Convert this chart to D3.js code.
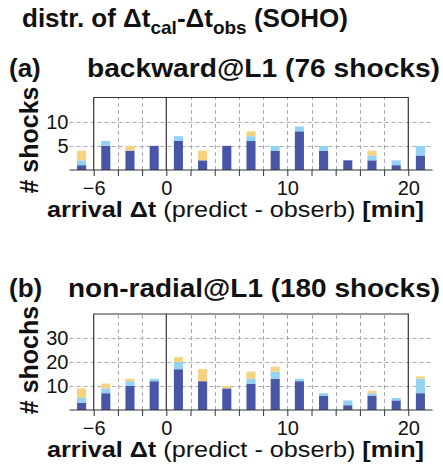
<!DOCTYPE html>
<html>
<head>
<meta charset="utf-8">
<script src="https://cdn.jsdelivr.net/npm/d3@7"></script>
<style>
  html, body { margin: 0; padding: 0; background: #fff; }
  svg { display: block; font-family: "Liberation Sans", Arial, Helvetica, sans-serif; }
</style>
</head>
<body>
<svg id="chart" width="443" height="468"></svg>
<script>
// bin centres (min), 2-min wide bins
const bins = [-7, -5, -3, -1, 1, 3, 5, 7, 9, 11, 13, 15, 17, 19, 21];

// (a) backward@L1
const aDark   = [1, 5, 4, 5, 6, 2, 5, 6, 4, 8, 4, 2, 2, 1, 3];
const aLight  = [1, 1, 0, 0, 1, 0, 0, 1, 1, 1, 1, 0, 1, 1, 2];
const aYellow = [2, 0, 1, 0, 0, 2, 0, 1, 0, 0, 0, 0, 1, 0, 0];

// (b) non-radial@L1
const bDark   = [3, 7, 10, 12, 17, 12, 9, 11, 13, 12, 6, 2, 6, 4, 7];
const bLight  = [2, 2, 2, 1, 3, 0, 0, 2, 3, 1, 1, 2, 1, 1, 6];
const bYellow = [4, 2, 1, 0, 2, 5, 1, 3, 2, 0, 0, 0, 1, 0, 1];

const xTicks = [-6, 0, 10, 20];
const aYTicks = [5, 10];
const bYTicks = [10, 20, 30];

const colors = { dark: '#4756a6', light: '#93d2f3', yellow: '#f4d27e' };

const svg = d3.select('#chart');

const x = d3.scaleLinear().domain([-8, 22]).range([69.5, 432.5]);
const frameL = -6, frameR = 20;

// title
const title = svg.append('text')
  .attr('x', 22).attr('y', 27)
  .attr('font-weight', 'bold').attr('font-size', 26).attr('fill', '#111');
title.append('tspan').text('distr. of Δt');
title.append('tspan').attr('font-size', 19).attr('dy', 7).text('cal');
title.append('tspan').attr('dy', -7).text('-Δt');
title.append('tspan').attr('font-size', 19).attr('dy', 7).text('obs');
title.append('tspan').attr('dy', -7).text(' (SOHO)');

function panel(opts) {
  const { tag, name, nameX, tagY, top, bottom, yMax, yTicks, ylabel, ylabelY, dark, light, yellow } = opts;
  const y = d3.scaleLinear().domain([0, yMax]).range([bottom, top]);
  const g = svg.append('g');

  // panel headers
  g.append('text').attr('x', 9).attr('y', tagY)
    .attr('font-weight', 'bold').attr('font-size', 26).attr('fill', '#111')
    .text(tag);
  g.append('text').attr('x', nameX).attr('y', tagY)
    .attr('font-weight', 'bold').attr('font-size', 26).attr('fill', '#111')
    .attr('textLength', 440 - nameX).attr('lengthAdjust', 'spacingAndGlyphs')
    .text(name);

  // dashed grid
  const grid = g.append('g').attr('stroke', '#aaa').attr('stroke-dasharray', '4,3').attr('stroke-width', 1);
  grid.selectAll('.hg').data(yTicks).join('line')
    .attr('x1', x(-8)).attr('x2', x(22))
    .attr('y1', d => Math.round(y(d)) + 0.5).attr('y2', d => Math.round(y(d)) + 0.5);
  const vg = d3.range(frameL + 2, frameR, 2).filter(d => d !== 0);
  grid.selectAll('.vg').data(vg).join('line')
    .attr('x1', d => Math.round(x(d)) + 0.5).attr('x2', d => Math.round(x(d)) + 0.5)
    .attr('y1', y(0)).attr('y2', y(yMax));

  // stacked bars
  const rows = bins.map((b, i) => ({ bin: b, dark: dark[i], light: light[i], yellow: yellow[i] }));
  const stack = d3.stack().keys(['dark', 'light', 'yellow'])(rows);
  const bw = x(0.75) - x(0);
  g.append('g').selectAll('g').data(stack).join('g')
    .attr('fill', d => colors[d.key])
    .selectAll('rect').data(d => d).join('rect')
    .attr('x', d => x(d.data.bin) - bw / 2)
    .attr('width', bw)
    .attr('y', d => y(d[1]))
    .attr('height', d => y(d[0]) - y(d[1]));

  // frame lines
  const fr = g.append('g').attr('stroke', '#333').attr('stroke-width', 1.2).attr('fill', 'none');
  fr.append('path').attr('d',
    `M${x(frameL)},${y(0)}V${y(yMax)}H${x(frameR)}V${y(0)}M${x(0)},${y(0)}V${y(yMax)}`);

  // x axis
  const xAxis = d3.axisBottom(x)
    .tickValues(d3.range(frameL, frameR + 1, 2))
    .tickSize(6).tickFormat(d => xTicks.includes(d) ? d3.format('')(d) : '');
  const xg = g.append('g').attr('transform', `translate(0,${y(0)})`).call(xAxis);
  xg.select('.domain').attr('d', `M${x(-8)},0H${x(22)}`).attr('stroke', '#333').attr('stroke-width', 1.2);
  xg.selectAll('.tick line').attr('stroke', '#333');
  xg.selectAll('.tick text').attr('font-size', 20).attr('fill', '#111').attr('dy', 0).attr('y', 25)
    .attr('font-family', '"Liberation Sans", Arial, sans-serif');

  // y tick labels
  const yAxis = d3.axisLeft(y).tickValues(yTicks).tickSize(0).tickPadding(0);
  const yg = g.append('g').attr('transform', `translate(${x(-8) - 1},0)`).call(yAxis);
  yg.select('.domain').remove();
  yg.selectAll('.tick text').attr('font-size', 20).attr('fill', '#111')
    .attr('font-family', '"Liberation Sans", Arial, sans-serif');

  // y label
  g.append('text')
    .attr('transform', `translate(38,${ylabelY}) rotate(-90)`)
    .attr('text-anchor', 'middle')
    .attr('font-weight', 'bold').attr('font-size', 25).attr('fill', '#111')
    .text(ylabel);

  // x label
  const xl = g.append('text').attr('x', 47).attr('y', y(0) + 47)
    .attr('font-size', 22).attr('fill', '#111')
    .attr('textLength', 377).attr('lengthAdjust', 'spacingAndGlyphs');
  xl.append('tspan').attr('font-weight', 'bold').text('arrival Δt');
  xl.append('tspan').text(' (predict - obserb) ');
  xl.append('tspan').attr('font-weight', 'bold').text('[min]');
}

panel({
  tag: '(a)', name: 'backward@L1 (76 shocks)', nameX: 87, tagY: 77,
  top: 97.5, bottom: 170, yMax: 15, yTicks: aYTicks,
  ylabel: '# shocks', ylabelY: 140,
  dark: aDark, light: aLight, yellow: aYellow
});

panel({
  tag: '(b)', name: 'non-radial@L1 (180 shocks)', nameX: 68, tagY: 297,
  top: 314, bottom: 410, yMax: 40, yTicks: bYTicks,
  ylabel: '# shochs', ylabelY: 360,
  dark: bDark, light: bLight, yellow: bYellow
});
</script>
</body>
</html>
